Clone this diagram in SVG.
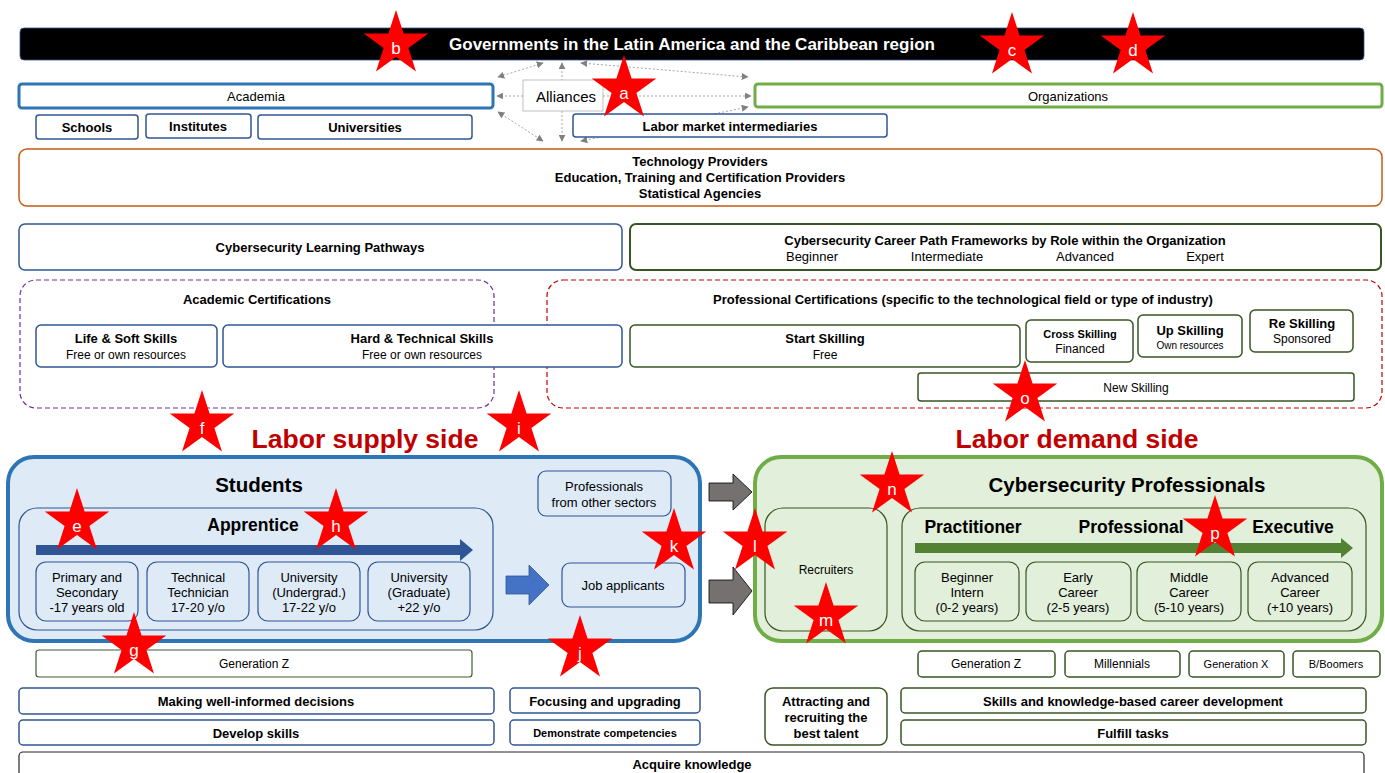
<svg xmlns="http://www.w3.org/2000/svg" width="1385" height="773" viewBox="0 0 1385 773">
<defs>
<style>
text{font-family:"Liberation Sans Narrow","Liberation Sans",Arial,sans-serif;text-anchor:middle;dominant-baseline:central;fill:#000}
.b{font-weight:bold}
.s13{font-size:13px}.s12{font-size:12px}.s11{font-size:11px}.s10{font-size:10px}
.blue{fill:#fff;stroke:#2F5597;stroke-width:1.5}
.green{fill:#fff;stroke:#375623;stroke-width:1.5}
.greenL{fill:none;stroke:#375623;stroke-width:1.2}
.blueL{fill:none;stroke:#2F5597;stroke-width:1.2}
.al{stroke:#A6A6A6;stroke-width:1;stroke-dasharray:2 2;fill:none;marker-start:url(#ah);marker-end:url(#ah)}
.al1{stroke:#A6A6A6;stroke-width:1;stroke-dasharray:2 2;fill:none;marker-end:url(#ah)}
.star{fill:#FF0000}
.sl{fill:#fff;font-family:"Liberation Sans",Arial,sans-serif;font-size:17px}
.red{fill:#C00000;font-weight:bold;font-size:26.5px}
.h1{font-weight:bold;font-size:20.5px}
.h2{font-weight:bold;font-size:17.5px}
</style>
<marker id="ah" viewBox="0 0 10 10" refX="9" refY="5" markerWidth="7" markerHeight="7" orient="auto-start-reverse" markerUnits="userSpaceOnUse">
<path d="M0,0 L10,5 L0,10 z" fill="#808080"/>
</marker>
<path id="star" d="M0,-34 L7.6,-10.5 L32.3,-10.5 L12.4,4 L20,27.5 L0,13 L-20,27.5 L-12.4,4 L-32.3,-10.5 L-7.6,-10.5 z"/>
</defs>
<rect width="1385" height="773" fill="#fff"/>

<g id="governments">
<rect x="20" y="28" width="1344" height="32" rx="4" fill="#000" stroke="#2F5597" stroke-width="0.8"/>
<text x="692" y="44" class="b" style="fill:#fff;font-size:17px">Governments in the Latin America and the Caribbean region</text>
</g>

<g id="connectors">
<line class="al" x1="543" y1="63" x2="498" y2="77"/>
<line class="al" x1="562" y1="63" x2="562" y2="141"/>
<line class="al" x1="581" y1="63" x2="748" y2="77"/>
<line class="al1" x1="523" y1="96" x2="497" y2="96"/>
<line class="al1" x1="603" y1="96" x2="751" y2="96"/>
<line class="al" x1="498" y1="112" x2="543" y2="141"/>
<line class="al" x1="581" y1="141" x2="748" y2="107"/>
</g>

<g id="academia">
<rect x="19" y="84" width="474" height="24" rx="3" fill="#fff" stroke="#2E75B6" stroke-width="3"/>
<text x="256" y="96" class="s13">Academia</text>
</g>
<g id="alliances">
<rect x="523" y="80" width="80" height="31" fill="#fff" stroke="#BFBFBF" stroke-width="1"/>
<text x="566" y="96" style="font-size:15px">Alliances</text>
</g>
<g id="organizations">
<rect x="755" y="84" width="627" height="23" rx="3" fill="#fff" stroke="#70AD47" stroke-width="3"/>
<text x="1068" y="96" class="s13">Organizations</text>
</g>
<g id="schools"><rect x="36" y="115" width="102" height="24" rx="3" class="blue"/><text x="87" y="127" class="b s13">Schools</text></g>
<g id="institutes"><rect x="146" y="114" width="105" height="24" rx="3" class="blue"/><text x="198" y="126" class="b s13">Institutes</text></g>
<g id="universities"><rect x="258" y="115" width="214" height="24" rx="3" class="blue"/><text x="365" y="127" class="b s13">Universities</text></g>
<g id="intermediaries"><rect x="573" y="114" width="314" height="23" rx="3" class="blue"/><text x="730" y="126" class="b s13">Labor market intermediaries</text></g>

<g id="providers">
<rect x="19" y="149" width="1363" height="57" rx="8" fill="#fff" stroke="#C55A11" stroke-width="1.5"/>
<text x="700" y="161" class="b s13">Technology Providers</text>
<text x="700" y="177" class="b s13">Education, Training and Certification Providers</text>
<text x="700" y="193" class="b s13">Statistical Agencies</text>
</g>

<g id="learning-pathways">
<rect x="19" y="224" width="603" height="46" rx="6" class="blue" stroke-width="2"/>
<text x="320" y="247" class="b s13">Cybersecurity Learning Pathways</text>
</g>
<g id="career-frameworks">
<rect x="630" y="224" width="751" height="46" rx="6" fill="#fff" stroke="#375623" stroke-width="2"/>
<text x="1005" y="240" class="b s13">Cybersecurity Career Path Frameworks by Role within the Organization</text>
<text x="812" y="256" class="s13">Beginner</text>
<text x="947" y="256" class="s13">Intermediate</text>
<text x="1085" y="256" class="s13">Advanced</text>
<text x="1205" y="256" class="s13">Expert</text>
</g>

<g id="academic-certs">
<rect x="20" y="280" width="474" height="128" rx="16" fill="none" stroke="#7030A0" stroke-width="1.2" stroke-dasharray="5 3"/>
<text x="257" y="299" class="b s13">Academic Certifications</text>
</g>
<g id="professional-certs">
<rect x="547" y="280" width="835" height="128" rx="16" fill="none" stroke="#C00000" stroke-width="1.2" stroke-dasharray="5 3"/>
<text x="963" y="299" class="b s13">Professional Certifications (specific to the technological field or type of industry)</text>
</g>
<g id="life-soft"><rect x="36" y="325" width="181" height="42" rx="5" class="blue"/><text x="126" y="338" class="b s13">Life &amp; Soft Skills</text><text x="126" y="355" class="s12">Free or own resources</text></g>
<g id="hard-tech"><rect x="223" y="325" width="399" height="42" rx="5" class="blue"/><text x="422" y="338" class="b s13">Hard &amp; Technical Skills</text><text x="422" y="355" class="s12">Free or own resources</text></g>
<g id="start-skilling"><rect x="630" y="325" width="390" height="42" rx="5" class="green"/><text x="825" y="338" class="b s13">Start Skilling</text><text x="825" y="355" class="s12">Free</text></g>
<g id="cross-skilling"><rect x="1026" y="320" width="107" height="42" rx="5" class="green"/><text x="1080" y="334" class="b s11">Cross Skilling</text><text x="1080" y="349" class="s12">Financed</text></g>
<g id="up-skilling"><rect x="1138" y="315" width="104" height="42" rx="5" class="green"/><text x="1190" y="330" class="b s13">Up Skilling</text><text x="1190" y="345" class="s10">Own resources</text></g>
<g id="re-skilling"><rect x="1250" y="310" width="103" height="42" rx="5" class="green"/><text x="1302" y="323" class="b s13">Re Skilling</text><text x="1302" y="339" class="s12">Sponsored</text></g>
<g id="new-skilling"><rect x="918" y="373" width="436" height="28" rx="3" class="green"/><text x="1136" y="388" class="s12">New Skilling</text></g>

<text x="365" y="439" class="red">Labor supply side</text>
<text x="1077" y="439" class="red">Labor demand side</text>

<g id="students">
<rect x="8" y="457" width="692" height="184" rx="26" fill="#DEEBF7" stroke="#2E75B6" stroke-width="4"/>
<text x="259" y="484" class="h1">Students</text>
<rect x="19" y="508" width="474" height="122" rx="18" class="blueL"/>
<text x="253" y="525" class="h2">Apprentice</text>
<polygon points="36,545 460,545 460,539 473,550 460,561 460,555 36,555" fill="#2F5597"/>
<rect x="36" y="562" width="102" height="59" rx="10" class="blueL"/>
<text x="87" y="577" class="s13">Primary and</text><text x="87" y="592" class="s13">Secondary</text><text x="87" y="607" class="s13">-17 years old</text>
<rect x="147" y="562" width="102" height="59" rx="10" class="blueL"/>
<text x="198" y="577" class="s13">Technical</text><text x="198" y="592" class="s13">Technician</text><text x="198" y="607" class="s13">17-20 y/o</text>
<rect x="258" y="562" width="102" height="59" rx="10" class="blueL"/>
<text x="309" y="577" class="s13">University</text><text x="309" y="592" class="s13">(Undergrad.)</text><text x="309" y="607" class="s13">17-22 y/o</text>
<rect x="368" y="562" width="102" height="59" rx="10" class="blueL"/>
<text x="419" y="577" class="s13">University</text><text x="419" y="592" class="s13">(Graduate)</text><text x="419" y="607" class="s13">+22 y/o</text>
<polygon points="506,576 529,576 529,565 549,585 529,605 529,594 506,594" fill="#4472C4" stroke="#2F5597" stroke-width="0.8"/>
</g>
<g id="job-applicants"><rect x="562" y="563" width="123" height="44" rx="8" class="blueL"/><text x="623" y="585" class="s13">Job applicants</text></g>
<g id="other-sectors"><rect x="538" y="471" width="133" height="45" rx="8" class="blueL"/><text x="604" y="486" class="s13">Professionals</text><text x="604" y="502" class="s13">from other sectors</text></g>

<g id="gray-arrows">
<polygon points="709,483 733,483 733,474 752,492 733,510 733,501 709,501" fill="#767171" stroke="#000" stroke-width="0.8"/>
<polygon points="709,580 733,580 733,567 752,591 733,615 733,603 709,603" fill="#767171" stroke="#000" stroke-width="0.8"/>
</g>

<g id="cyber-professionals">
<rect x="755" y="457" width="627" height="184" rx="26" fill="#E2EFDA" stroke="#70AD47" stroke-width="4"/>
<text x="1127" y="484" class="h1">Cybersecurity Professionals</text>
</g>
<g id="recruiters"><rect x="765" y="508" width="122" height="123" rx="18" class="greenL"/><text x="826" y="570" class="s12">Recruiters</text></g>
<g id="career-stages">
<rect x="902" y="508" width="464" height="123" rx="18" class="greenL"/>
<text x="973" y="527" class="h2">Practitioner</text>
<text x="1131" y="527" class="h2">Professional</text>
<text x="1293" y="527" class="h2">Executive</text>
<polygon points="915,543 1341,543 1341,538 1353,548 1341,558 1341,553 915,553" fill="#548235"/>
<rect x="915" y="562" width="104" height="59" rx="10" class="greenL"/>
<text x="967" y="577" class="s13">Beginner</text><text x="967" y="592" class="s13">Intern</text><text x="967" y="607" class="s13">(0-2 years)</text>
<rect x="1026" y="562" width="105" height="59" rx="10" class="greenL"/>
<text x="1078" y="577" class="s13">Early</text><text x="1078" y="592" class="s13">Career</text><text x="1078" y="607" class="s13">(2-5 years)</text>
<rect x="1137" y="562" width="104" height="59" rx="10" class="greenL"/>
<text x="1189" y="577" class="s13">Middle</text><text x="1189" y="592" class="s13">Career</text><text x="1189" y="607" class="s13">(5-10 years)</text>
<rect x="1248" y="562" width="104" height="59" rx="10" class="greenL"/>
<text x="1300" y="577" class="s13">Advanced</text><text x="1300" y="592" class="s13">Career</text><text x="1300" y="607" class="s13">(+10 years)</text>
</g>

<g id="genz-left"><rect x="36" y="650" width="436" height="27" rx="3" fill="#fff" stroke="#3F5F2F" stroke-width="1.2"/><text x="254" y="664" class="s12">Generation Z</text></g>
<g id="genz-right"><rect x="918" y="651" width="137" height="26" rx="4" class="green" stroke-width="1.2"/><text x="986" y="664" class="s12">Generation Z</text></g>
<g id="millennials"><rect x="1065" y="651" width="115" height="26" rx="4" class="green" stroke-width="1.2"/><text x="1122" y="664" class="s12">Millennials</text></g>
<g id="genx"><rect x="1189" y="651" width="95" height="26" rx="4" class="green" stroke-width="1.2"/><text x="1236" y="664" class="s11">Generation  X</text></g>
<g id="boomers"><rect x="1293" y="651" width="87" height="26" rx="4" class="green" stroke-width="1.2"/><text x="1336" y="664" class="s11">B/Boomers</text></g>

<g id="decisions"><rect x="19" y="688" width="475" height="26" rx="4" class="blue" stroke-width="1.2"/><text x="256" y="701" class="b s13">Making well-informed decisions</text></g>
<g id="develop"><rect x="19" y="720" width="475" height="25" rx="4" class="blue" stroke-width="1.2"/><text x="256" y="733" class="b s13">Develop skills</text></g>
<g id="focusing"><rect x="510" y="688" width="190" height="25" rx="4" class="blue" stroke-width="1.2"/><text x="605" y="701" class="b s13">Focusing and upgrading</text></g>
<g id="demonstrate"><rect x="510" y="720" width="190" height="25" rx="4" class="blue" stroke-width="1.2"/><text x="605" y="733" class="b s11">Demonstrate competencies</text></g>
<g id="attracting"><rect x="765" y="688" width="122" height="57" rx="8" class="green" stroke-width="1.2"/><text x="826" y="701" class="b s13">Attracting and</text><text x="826" y="717" class="b s13">recruiting the</text><text x="826" y="733" class="b s13">best talent</text></g>
<g id="career-dev"><rect x="901" y="688" width="465" height="25" rx="4" class="green" stroke-width="1.2"/><text x="1133" y="701" class="b s13">Skills and knowledge-based career development</text></g>
<g id="fulfill"><rect x="901" y="720" width="465" height="25" rx="4" class="green" stroke-width="1.2"/><text x="1133" y="733" class="b s13">Fulfill tasks</text></g>
<g id="acquire"><rect x="19" y="752" width="1345" height="40" rx="4" fill="#fff" stroke="#262626" stroke-width="1.2"/><text x="692" y="764" class="b s13">Acquire knowledge</text></g>

<g id="stars">
<g id="star-a"><use href="#star" class="star" x="624" y="89"/><text x="624" y="93" class="sl">a</text></g>
<g id="star-b"><use href="#star" class="star" x="396" y="44"/><text x="396" y="48" class="sl">b</text></g>
<g id="star-c"><use href="#star" class="star" x="1012" y="46"/><text x="1012" y="50" class="sl">c</text></g>
<g id="star-d"><use href="#star" class="star" x="1133" y="46"/><text x="1133" y="50" class="sl">d</text></g>
<g id="star-e"><use href="#star" class="star" x="77" y="522"/><text x="77" y="526" class="sl">e</text></g>
<g id="star-f"><use href="#star" class="star" x="202" y="424"/><text x="202" y="428" class="sl">f</text></g>
<g id="star-g"><use href="#star" class="star" x="134" y="646"/><text x="134" y="650" class="sl">g</text></g>
<g id="star-h"><use href="#star" class="star" x="336" y="522"/><text x="336" y="526" class="sl">h</text></g>
<g id="star-i"><use href="#star" class="star" x="519" y="424"/><text x="519" y="428" class="sl">i</text></g>
<g id="star-j"><use href="#star" class="star" x="580" y="649"/><text x="580" y="653" class="sl">j</text></g>
<g id="star-k"><use href="#star" class="star" x="674" y="542"/><text x="674" y="546" class="sl">k</text></g>
<g id="star-l"><use href="#star" class="star" x="755" y="542"/><text x="755" y="546" class="sl">l</text></g>
<g id="star-m"><use href="#star" class="star" x="826" y="616"/><text x="826" y="620" class="sl">m</text></g>
<g id="star-n"><use href="#star" class="star" x="892" y="485"/><text x="892" y="489" class="sl">n</text></g>
<g id="star-o"><use href="#star" class="star" x="1025" y="394"/><text x="1025" y="398" class="sl">o</text></g>
<g id="star-p"><use href="#star" class="star" x="1215" y="529"/><text x="1215" y="533" class="sl">p</text></g>
</g>
</svg>
